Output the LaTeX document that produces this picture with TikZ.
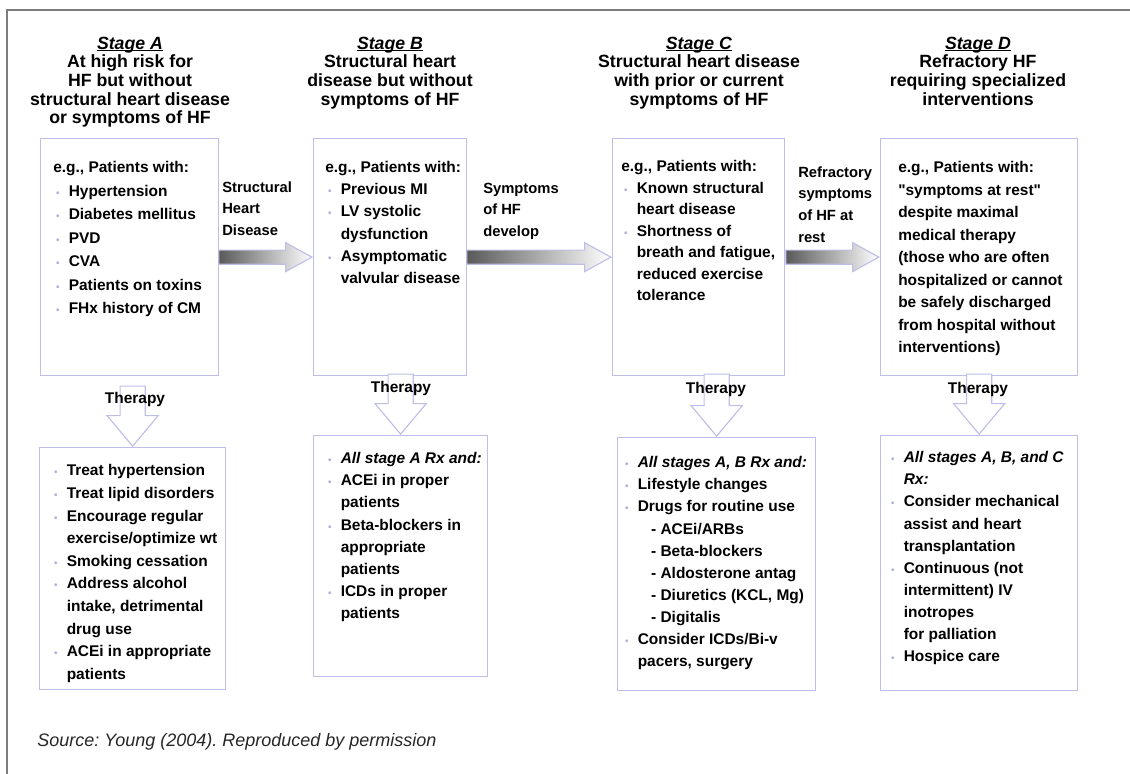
\documentclass[tikz,border=0pt]{standalone}
\usepackage{fontspec}
\setmainfont{Liberation Sans}
\usepackage{tikz}
\usetikzlibrary{calc,shapes.arrows}
\usepackage{xcolor}
\frenchspacing

\definecolor{boxline}{RGB}{190,190,232}
\definecolor{dotcol}{RGB}{176,176,220}
\definecolor{framegray}{RGB}{125,125,125}
\def\px{0.025cm}
\newcommand{\bi}{\makebox[11pt][l]{\hspace{2pt}\textcolor{dotcol}{\scriptsize\textbullet}}}
\newcommand{\ci}{\hspace*{11pt}}
\newcommand{\di}{\hspace*{20.5pt}}
\newcommand{\stagename}[1]{\setbox0\hbox{#1}\rlap{\rule[-1.6pt]{\wd0}{0.7pt}}\box0}

\begin{document}
\begin{tikzpicture}[x=\px,y=-\px,line cap=round,
  stagebox/.style={draw=boxline,line width=0.9pt,anchor=north west,inner sep=0pt},
  boxsize/.style 2 args={minimum width=#1*\px,minimum height=#2*\px},
  stagehead/.style={anchor=north,align=center,inner sep=0pt,font=\fontsize{12.6}{13.3}\selectfont\bfseries},
  boxlist/.style={anchor=north west,align=left,inner sep=0pt,font=\fontsize{11}{15.7}\selectfont\bfseries},
  steplabel/.style={anchor=north west,align=left,inner sep=0pt,font=\fontsize{10.5}{15.3}\selectfont\bfseries},
  flowarrow/.style={single arrow,draw=boxline,line width=0.8pt,left color=black!65,right color=white,
    inner xsep=0pt,inner ysep=4.62pt,single arrow head extend=5.33pt,single arrow tip angle=58,anchor=tip},
  therarrow/.style={single arrow,draw=boxline,line width=0.8pt,fill=white,rotate=-90,
    inner xsep=0pt,inner ysep=8.54pt,single arrow head extend=9.25pt,single arrow tip angle=80,anchor=tip},
  therlabel/.style={inner sep=0pt,font=\fontsize{11}{13}\selectfont\bfseries}]
  \useasboundingbox (0,0) rectangle (1130,774);

  % frame
  \draw[framegray,line width=1.2pt] (7,774) -- (7,10) -- (1130,10);

  % --- stage headings ---
  \node[stagehead] (headA) at (130,36.5) {\stagename{\textit{Stage A}}\\At high risk for\\HF but without\\structural heart disease\\or symptoms of HF};
  \node[stagehead] (headB) at (390,36.5) {\stagename{\textit{Stage B}}\\Structural heart\\disease but without\\symptoms of HF};
  \node[stagehead] (headC) at (699,36.5) {\stagename{\textit{Stage C}}\\Structural heart disease\\with prior or current\\symptoms of HF};
  \node[stagehead] (headD) at (978,36.5) {\stagename{\textit{Stage D}}\\Refractory HF\\requiring specialized\\interventions};

  % --- patient boxes ---
  \node[stagebox,boxsize={178}{237}] (boxA) at (40,138) {};
  \node[stagebox,boxsize={153}{237}] (boxB) at (313,138) {};
  \node[stagebox,boxsize={172}{237}] (boxC) at (612,138) {};
  \node[stagebox,boxsize={197}{237}] (boxD) at (880,138) {};

  \node[boxlist,font=\fontsize{11}{16.7}\selectfont\bfseries] (listA) at (53,161.3)
    {e.g., Patients with:\\\bi Hypertension\\\bi Diabetes mellitus\\\bi PVD\\\bi CVA\\\bi Patients on toxins\\\bi FHx history of CM};
  \node[boxlist] (listB) at (325,161.3)
    {e.g., Patients with:\\\bi Previous MI\\\bi LV systolic\\\ci dysfunction\\\bi Asymptomatic\\\ci valvular disease};
  \node[boxlist,font=\fontsize{11}{15.3}\selectfont\bfseries] (listC) at (621,160.3)
    {e.g., Patients with:\\\bi Known structural\\\ci heart disease\\\bi Shortness of\\\ci breath and fatigue,\\\ci reduced exercise\\\ci tolerance};
  \node[boxlist,font=\fontsize{11}{16}\selectfont\bfseries] (listD) at (898,161.3)
    {e.g., Patients with:\\\textquotedbl symptoms at rest\textquotedbl\\despite maximal\\medical therapy\\(those who are often\\hospitalized or cannot\\be safely discharged\\from hospital without\\interventions)};

  % --- arrows between stages ---
  \node[flowarrow,minimum height=93*\px] (arrAB) at (boxB.west) {};
  \node[flowarrow,minimum height=144*\px] (arrBC) at (boxC.west) {};
  \node[flowarrow,minimum height=93*\px] (arrCD) at (boxD.west) {};

  \node[steplabel] (labAB) at (222,181.5) {Structural\\Heart\\Disease};
  \node[steplabel] (labBC) at (483,182.5) {Symptoms\\of HF\\develop};
  \node[steplabel] (labCD) at (798,166.5) {Refractory\\symptoms\\of HF at\\rest};

  % --- therapy boxes ---
  \node[stagebox,boxsize={186}{242}] (therA) at (39,447) {};
  \node[stagebox,boxsize={174}{241}] (therB) at (313,435) {};
  \node[stagebox,boxsize={198}{253}] (therC) at (617,437) {};
  \node[stagebox,boxsize={197}{255}] (therD) at (880,435) {};

  % therapy arrows
  \node[therarrow,minimum height=60*\px] (downA) at (therA.north) {};
  \node[therarrow,minimum height=60*\px] (downB) at (therB.north) {};
  \node[therarrow,minimum height=62*\px] (downC) at (therC.north) {};
  \node[therarrow,minimum height=60*\px] (downD) at (therD.north) {};

  \node[therlabel] (therlabA) at (135,399) {Therapy};
  \node[therlabel] (therlabB) at (401,388) {Therapy};
  \node[therlabel] (therlabC) at (716,389) {Therapy};
  \node[therlabel] (therlabD) at (978,389) {Therapy};

  \node[boxlist,font=\fontsize{11}{16.1}\selectfont\bfseries] (rxA) at (51,464.3)
    {\bi Treat hypertension\\\bi Treat lipid disorders\\\bi Encourage regular\\\ci exercise/optimize wt\\\bi Smoking cessation\\\bi Address alcohol\\\ci intake, detrimental\\\ci drug use\\\bi ACEi in appropriate\\\ci patients};
  \node[boxlist] (rxB) at (325,452.3)
    {\bi\textit{All stage A Rx and:}\\\bi ACEi in proper\\\ci patients\\\bi Beta-blockers in\\\ci appropriate\\\ci patients\\\bi ICDs in proper\\\ci patients};
  \node[boxlist] (rxC) at (622,456.3)
    {\bi\textit{All stages A, B Rx and:}\\\bi Lifestyle changes\\\bi Drugs for routine use\\\di - ACEi/ARBs\\\di - Beta-blockers\\\di - Aldosterone antag\\\di - Diuretics (KCL, Mg)\\\di - Digitalis\\\bi Consider ICDs/Bi-v\\\ci pacers, surgery};
  \node[boxlist] (rxD) at (888,451.3)
    {\bi\textit{All stages A, B, and C}\\\ci\textit{Rx:}\\\bi Consider mechanical\\\ci assist and heart\\\ci transplantation\\\bi Continuous (not\\\ci intermittent) IV\\\ci inotropes\\\ci for palliation\\\bi Hospice care};

  % source line
  \node[anchor=west,inner sep=0pt,text=black!85,font=\fontsize{12.8}{15}\selectfont\itshape] (source) at (37,742)
    {Source: Young (2004). Reproduced by permission};
\end{tikzpicture}
\end{document}
